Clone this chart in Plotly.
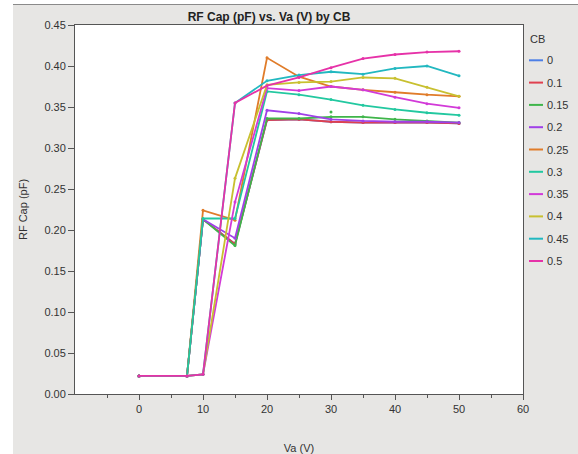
import plotly.graph_objects as go

# ---------------- data ----------------
va = [0, 7.5, 10, 15, 20, 25, 30, 35, 40, 45, 50]
cb_labels = ["0", "0.1", "0.15", "0.2", "0.25", "0.3", "0.35", "0.4", "0.45", "0.5"]
colors = ["#4d7fe6", "#e0404f", "#3fb54a", "#a040e8", "#e07c2a",
          "#22c8a0", "#d23ad8", "#c8c030", "#22b8c0", "#e632a8"]

cap_0    = [0.022, 0.022, 0.213, 0.183, 0.334, 0.335, 0.332, 0.331, 0.331, 0.331, 0.330]
cap_0_1  = [0.022, 0.022, 0.213, 0.183, 0.334, 0.335, 0.332, 0.331, 0.331, 0.331, 0.330]
cap_0_15 = [0.022, 0.022, 0.213, 0.181, 0.336, 0.336, 0.338, 0.338, 0.335, 0.333, 0.331]
cap_0_2  = [0.022, 0.022, 0.213, 0.190, 0.346, 0.342, 0.335, 0.333, 0.332, 0.332, 0.331]
cap_0_25 = [0.022, 0.022, 0.224, 0.212, 0.410, 0.387, 0.375, 0.371, 0.368, 0.365, 0.363]
cap_0_3  = [0.022, 0.022, 0.214, 0.214, 0.369, 0.365, 0.359, 0.352, 0.347, 0.343, 0.340]
cap_0_35 = [0.022, 0.022, 0.024, 0.234, 0.373, 0.370, 0.375, 0.371, 0.362, 0.354, 0.349]
cap_0_4  = [0.022, 0.022, 0.024, 0.263, 0.377, 0.380, 0.381, 0.386, 0.385, 0.374, 0.363]
cap_0_45 = [0.022, 0.022, 0.024, 0.355, 0.382, 0.389, 0.393, 0.390, 0.397, 0.400, 0.388]
cap_0_5  = [0.022, 0.022, 0.024, 0.355, 0.376, 0.386, 0.398, 0.409, 0.414, 0.417, 0.418]
series = [cap_0, cap_0_1, cap_0_15, cap_0_2, cap_0_25, cap_0_3,
          cap_0_35, cap_0_4, cap_0_45, cap_0_5]

# isolated extra point of CB 0.15
extra_va = [30]
extra_cap = [0.344]

x_ticks = [0, 10, 20, 30, 40, 50, 60]
x_minor = [-5, 5, 15, 25, 35, 45, 55]
y_ticks = [0.00, 0.05, 0.10, 0.15, 0.20, 0.25, 0.30, 0.35, 0.40, 0.45]

# ---------------- geometry ----------------
W, H = 578, 454
L, R, T, B = 75, 523, 25, 394
pw, ph = R - L, B - T


def px(x):
    return (x - L) / pw


def py(y):
    return (B - y) / ph


FONT = "Arial, 'Liberation Sans', sans-serif"

fig = go.Figure()
for lab, col, ys in zip(cb_labels, colors, series):
    fig.add_trace(go.Scatter(
        x=va, y=ys, name=lab, mode="lines+markers",
        line=dict(color=col, width=1.8),
        marker=dict(color=col, size=3),
        showlegend=False,
    ))
fig.add_trace(go.Scatter(
    x=extra_va, y=extra_cap, mode="markers",
    marker=dict(color=colors[2], size=3), showlegend=False,
))

shapes = []
annotations = []
# outer frame decorations: white strips left/top and grey border line
shapes.append(dict(type="rect", xref="paper", yref="paper", layer="below",
                   x0=px(0), x1=px(13), y0=py(H), y1=py(0),
                   fillcolor="white", line=dict(width=0)))
shapes.append(dict(type="rect", xref="paper", yref="paper", layer="below",
                   x0=px(0), x1=px(W), y0=py(4), y1=py(0),
                   fillcolor="white", line=dict(width=0)))
shapes.append(dict(type="line", xref="paper", yref="paper", layer="below",
                   x0=px(13), x1=px(W), y0=py(4.5), y1=py(4.5),
                   line=dict(color="#8a8a8a", width=1)))

# manual legend
annotations.append(dict(xref="paper", yref="paper", x=px(528), y=py(39),
                        text="CB", showarrow=False, xanchor="left",
                        yanchor="middle", font=dict(family=FONT, size=11, color="#333")))
for i, (lab, col) in enumerate(zip(cb_labels, colors)):
    yy = 60.3 + 22.3 * i
    shapes.append(dict(type="line", xref="paper", yref="paper",
                       x0=px(529), x1=px(543), y0=py(yy), y1=py(yy),
                       line=dict(color=col, width=2)))
    annotations.append(dict(xref="paper", yref="paper", x=px(544.5), y=py(yy),
                            text=lab, showarrow=False, xanchor="left",
                            yanchor="middle",
                            font=dict(family=FONT, size=11, color="#333")))

fig.update_layout(
    width=W, height=H,
    margin=dict(l=L, r=W - R, t=T, b=H - B, pad=0),
    paper_bgcolor="#e7e6e4",
    plot_bgcolor="white",
    showlegend=False,
    font=dict(family=FONT, size=11, color="#333"),
    title=dict(text="<b>RF Cap (pF) vs. Va (V) by CB</b>",
               x=269 / W, xanchor="center", xref="container",
               y=1 - 17 / H, yanchor="middle", yref="container",
               font=dict(family=FONT, size=12, color="#222")),
    shapes=shapes,
    annotations=annotations,
)
fig.update_xaxes(
    range=[-10, 60], tickvals=x_ticks, ticktext=[str(v) for v in x_ticks],
    ticks="outside", ticklen=5, tickcolor="#555", tickwidth=1,
    minor=dict(tickvals=x_minor, ticks="outside", ticklen=3, tickcolor="#555"),
    showgrid=False, zeroline=False,
    showline=True, linecolor="#555", linewidth=1, mirror=True,
    title=dict(text="Va (V)", standoff=30, font=dict(family=FONT, size=11, color="#333")),
    automargin=False,
)
fig.update_yaxes(
    range=[0, 0.45], tickvals=y_ticks, ticktext=[f"{v:.2f}" for v in y_ticks],
    ticks="outside", ticklen=6, tickcolor="#555", tickwidth=1,
    showgrid=False, zeroline=False,
    showline=True, linecolor="#555", linewidth=1, mirror=True,
    title=dict(text="RF Cap (pF)", standoff=14, font=dict(family=FONT, size=11, color="#333")),
    automargin=False,
)

fig.write_html(
    "out.html",
    config={"displayModeBar": False},
    post_script="document.body.style.margin='0';document.body.style.padding='0';"
                "document.body.style.overflow='hidden';",
)
